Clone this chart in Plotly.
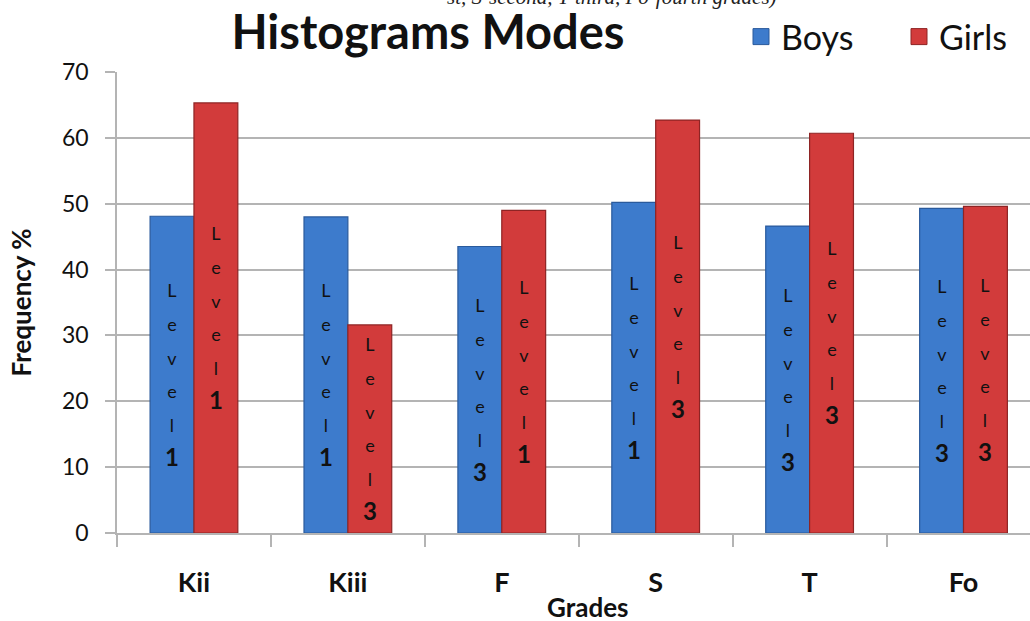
import plotly.graph_objects as go

# ---- data ----
grades = ["Kii", "Kiii", "F", "S", "T", "Fo"]
boys = [48.1, 48.0, 43.5, 50.2, 46.6, 49.3]
girls = [65.3, 31.6, 49.0, 62.7, 60.7, 49.6]
boys_level = ["1", "1", "3", "1", "3", "3"]
girls_level = ["1", "3", "1", "3", "3", "3"]
y_ticks = [0, 10, 20, 30, 40, 50, 60, 70]

BLUE = "#3d7bcc"
BLUE_EDGE = "#2a5a9c"
RED = "#d23b3b"
RED_EDGE = "#8e2424"
GRID = "#b4b4b4"
FONT = "Lato"

BARGAP = 0.43
PLOT_H = 621 - 72 - 88

fig = go.Figure()
fig.add_trace(go.Bar(name="Boys", x=grades, y=boys, showlegend=False, legendgroup="b",
                     marker=dict(color=BLUE, line=dict(color=BLUE_EDGE, width=1.2))))
fig.add_trace(go.Bar(name="Girls", x=grades, y=girls, showlegend=False, legendgroup="g",
                     marker=dict(color=RED, line=dict(color=RED_EDGE, width=1.2))))
# legend entries with larger square symbols
fig.add_trace(go.Scatter(name="Boys", x=[None], y=[None], mode="markers", legendgroup="b",
                         marker=dict(symbol="square", size=16, color=BLUE,
                                     line=dict(color=BLUE_EDGE, width=1))))
fig.add_trace(go.Scatter(name="Girls", x=[None], y=[None], mode="markers", legendgroup="g",
                         marker=dict(symbol="square", size=16, color=RED,
                                     line=dict(color=RED_EDGE, width=1))))


def stacked(level):
    letters = "<br>".join('<span style="font-size:18px">%s</span>' % c for c in "Level")
    return letters + '<br><span style="font-size:24px"><b>%s</b></span>' % level


annotations = []
off = (1 - BARGAP) / 4
for i, g in enumerate(grades):
    annotations.append(dict(x=i - off, y=boys[i] / 2, xref="x", yref="y",
                            text=stacked(boys_level[i]), showarrow=False,
                            font=dict(family=FONT, size=26, color="#111111"),
                            xanchor="center", yanchor="middle"))
    annotations.append(dict(x=i + off, y=girls[i] / 2, xref="x", yref="y",
                            text=stacked(girls_level[i]), showarrow=False,
                            font=dict(family=FONT, size=26, color="#111111"),
                            xanchor="center", yanchor="middle"))

# clipped caption line at the very top
annotations.append(dict(x=(612 - 117) / 913, y=1 + 72 / PLOT_H, xref="paper", yref="paper",
                        text="<i>st, S-second, T-third, Fo-fourth grades)</i>",
                        showarrow=False, xanchor="center", yanchor="middle", yshift=3,
                        font=dict(family="Liberation Serif", size=21, color="#222222")))
# x axis title
annotations.append(dict(x=(587 - 117) / 913, y=-(607 - 533) / PLOT_H, xref="paper", yref="paper",
                        text="<b>Grades</b>", showarrow=False,
                        xanchor="center", yanchor="middle",
                        font=dict(family=FONT, size=26, color="#111111")))

fig.update_layout(
    width=1030, height=621,
    margin=dict(l=117, r=0, t=72, b=88, autoexpand=False),
    paper_bgcolor="white", plot_bgcolor="white",
    barmode="group", bargap=BARGAP, bargroupgap=0,
    title=dict(text="<b>Histograms Modes</b>", x=428 / 1030, xanchor="center",
               y=1 - 33 / 621, yanchor="middle",
               font=dict(family=FONT, size=47, color="#111111")),
    legend=dict(orientation="h", xref="container", yref="container",
                x=741 / 1030, xanchor="left", y=1 - 37 / 621, yanchor="middle",
                font=dict(family=FONT, size=34, color="#111111"),
                bgcolor="rgba(0,0,0,0)", entrywidth=113, itemwidth=30),
    annotations=annotations,
    showlegend=True,
)

fig.update_xaxes(
    range=[-0.5, 5.432], automargin=False,
    showgrid=False, showline=True, linecolor=GRID, linewidth=1.5,
    ticks="outside", tickson="boundaries", ticklen=12, tickcolor=GRID, tickwidth=1.5,
    ticklabelstandoff=25,
    tickfont=dict(family=FONT, size=27, color="#111111", weight="bold"),
)
fig.update_yaxes(
    range=[0, 70], tickvals=y_ticks, automargin=False,
    showgrid=True, gridcolor=GRID, gridwidth=1.5,
    showline=True, linecolor=GRID, linewidth=1.5,
    ticks="outside", ticklen=10, tickcolor=GRID, tickwidth=1.5,
    ticklabelstandoff=12,
    tickfont=dict(family=FONT, size=23, color="#111111"),
    title=dict(text="<b>Frequency %</b>", standoff=23,
               font=dict(family=FONT, size=26, color="#111111")),
    zeroline=False,
)

fig.write_html("out.html", config={"displayModeBar": False},
               post_script="document.body.style.margin='0px';")
